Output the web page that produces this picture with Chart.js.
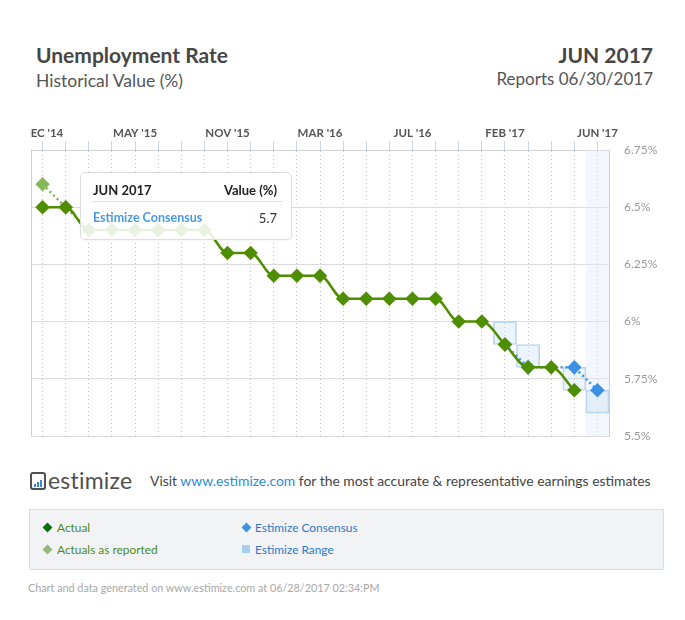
<!DOCTYPE html>
<html lang="en">
<head>
<meta charset="utf-8">
<script src="https://cdn.jsdelivr.net/npm/chart.js@4.4.0/dist/chart.umd.min.js"></script>
<style>
  body { margin:0; width:685px; height:620px; background:#fff; position:relative; overflow:hidden;
         font-family: Lato, "Open Sans", sans-serif; }
  .abs { position:absolute; white-space:nowrap; }
  #title { left:36px; top:42px; font-size:21px; font-weight:bold; color:#464646; }
  #subtitle { left:36px; top:70px; font-size:17.5px; color:#555; }
  #period { right:32px; top:42px; font-size:21px; font-weight:bold; color:#464646; }
  #reports { right:32px; top:68px; font-size:17px; color:#555; }
  #wrap { left:30px; top:120px; width:655px; height:330px; }
  #tip { left:80px; top:172px; width:210px; height:66px; background:rgba(255,255,255,0.88);
         border:1px solid #dcdcdc; border-radius:5px; box-shadow:0 1px 2px rgba(0,0,0,0.04); }
  #tip .h { position:absolute; top:9px; font-size:13px; font-weight:bold; color:#222; }
  #tip .sep { position:absolute; left:10px; right:8px; top:28px; border-top:1px solid #e2e2e2; }
  #tip .r { position:absolute; top:37px; font-size:13px; }
  #logo { left:30px; top:466px; font-size:23px; color:#505050; letter-spacing:0.2px; }
  #logo .ico { display:inline-block; position:relative; width:12px; height:14px; border:2px solid #505050;
               border-radius:3px; vertical-align:-1px; margin-right:2px; }
  #logo .ico i { position:absolute; bottom:1px; width:2px; background:#3a8ad8; }
  #visit { left:150px; top:472px; font-size:13.9px; color:#444; }
  #visit a { color:#2d8bd6; text-decoration:none; }
  #legend { left:29px; top:509px; width:633px; height:59px; background:#f1f3f5; border:1px solid #dcdfe2; }
  .li { position:absolute; font-size:11.9px; }
  .dm { position:absolute; width:7px; height:7px; transform:rotate(45deg); }
  .sq { position:absolute; width:8px; height:8px; }
  #foot { left:28px; top:581px; font-size:10.8px; color:#a8a8a8; }
</style>
</head>
<body>
<div class="abs" id="title">Unemployment Rate</div>
<div class="abs" id="subtitle">Historical Value (%)</div>
<div class="abs" id="period">JUN 2017</div>
<div class="abs" id="reports">Reports 06/30/2017</div>

<div class="abs" id="wrap"><canvas id="chart"></canvas></div>

<div class="abs" id="tip">
  <div class="h" style="left:12px">JUN 2017</div>
  <div class="h" style="right:14px">Value (%)</div>
  <div class="sep"></div>
  <div class="r" style="left:12px;color:#4a9be6;font-weight:bold;font-size:12.5px">Estimize Consensus</div>
  <div class="r" style="right:14px;color:#333">5.7</div>
</div>

<div class="abs" id="logo"><span class="ico"><i style="left:2px;height:3px"></i><i style="left:5px;height:5px"></i><i style="left:8px;height:7px"></i></span>estimize</div>
<div class="abs" id="visit">Visit <a>www.estimize.com</a> for the most accurate &amp; representative earnings estimates</div>

<div class="abs" id="legend">
  <div class="dm" style="left:14px;top:14px;background:#0d6e0d"></div>
  <div class="li" style="left:27px;top:10px;color:#4c8a1e">Actual</div>
  <div class="dm" style="left:14px;top:36px;background:#93b77d"></div>
  <div class="li" style="left:27px;top:32px;color:#4c8a1e">Actuals as reported</div>
  <div class="dm" style="left:213px;top:14px;background:#3f91e6"></div>
  <div class="li" style="left:225px;top:10px;color:#2f78c8">Estimize Consensus</div>
  <div class="sq" style="left:212px;top:35px;background:#a9cdee"></div>
  <div class="li" style="left:225px;top:32px;color:#2f78c8">Estimize Range</div>
</div>

<div class="abs" id="foot">Chart and data generated on www.estimize.com at 06/28/2017 02:34:PM</div>

<script>
  // report months, only every 4th one is labelled on the axis
  var months = ["DEC '14", "JAN '15", "FEB '15", "MAR '15", "MAY '15", "JUN '15", "JUL '15", "SEP '15",
                "NOV '15", "DEC '15", "JAN '16", "FEB '16", "MAR '16", "APR '16", "MAY '16", "JUN '16",
                "JUL '16", "AUG '16", "OCT '16", "DEC '16", "FEB '17", "MAR '17", "APR '17", "MAY '17", "JUN '17"];

  var actual = [6.5, 6.5, 6.4, 6.4, 6.4, 6.4, 6.4, 6.4, 6.3, 6.3, 6.2, 6.2, 6.2,
                6.1, 6.1, 6.1, 6.1, 6.1, 6.0, 6.0, 5.9, 5.8, 5.8, 5.7, null];

  var reported = [6.6, 6.5, 6.4, null, null, null, null, null, null, null, null, null, null,
                  null, null, null, null, null, null, null, null, null, null, null, null];

  var consensus = [null, null, null, null, null, null, null, null, null, null, null, null, null,
                   null, null, null, null, null, null, null, 5.9, 5.8, null, 5.8, 5.7];

  var rangeLow  = [null, null, null, null, null, null, null, null, null, null, null, null, null,
                   null, null, null, null, null, null, null, 5.9, 5.8, null, 5.7, 5.6];
  var rangeHigh = [null, null, null, null, null, null, null, null, null, null, null, null, null,
                   null, null, null, null, null, null, null, 6.0, 5.9, null, 5.8, 5.7];

  var yTicks = [5.5, 5.75, 6, 6.25, 6.5, 6.75];
  var currentIdx = 24;

  var ranges = rangeLow.map(function (lo, i) { return lo == null ? null : [lo, rangeHigh[i]]; });
  var band = months.map(function (m, i) { return i == currentIdx ? [yTicks[0], yTicks[yTicks.length - 1]] : null; });

  // left edge of the plot frame (top/right come from the axis borders)
  var frame = {
    id: 'frame',
    beforeDatasetsDraw: function (chart) {
      var a = chart.chartArea, ctx = chart.ctx;
      ctx.save();
      ctx.strokeStyle = '#cfcfcf';
      ctx.lineWidth = 1;
      ctx.beginPath();
      ctx.moveTo(a.left + 0.5, a.top);
      ctx.lineTo(a.left + 0.5, a.bottom);
      ctx.stroke();
      ctx.restore();
    }
  };

  new Chart(document.getElementById('chart'), {
    type: 'bar',
    data: {
      labels: months,
      datasets: [
        { type: 'line', label: 'Actual', data: actual, order: 0,
          borderColor: '#4f8e00', backgroundColor: '#4f8e00', borderWidth: 2.5,
          cubicInterpolationMode: 'monotone', pointStyle: 'rectRot', pointRadius: 5.5 },
        { type: 'line', label: 'Estimize Consensus', data: consensus, order: 1, spanGaps: true,
          borderColor: '#3d8fe2', backgroundColor: '#3d8fe2', borderWidth: 2.5, borderDash: [2, 3],
          pointStyle: 'rectRot', pointRadius: 5.5 },
        { type: 'line', label: 'Actuals as reported', data: reported, order: 2,
          borderColor: '#86b85a', backgroundColor: '#86b85a', borderWidth: 2.5, borderDash: [2, 3],
          pointStyle: 'rectRot', pointRadius: 5.5 },
        { label: 'Estimize Range', data: ranges, order: 3, grouped: false,
          backgroundColor: 'rgba(205,225,246,0.4)', borderColor: '#b6d4f1', borderWidth: 1,
          borderSkipped: false, barPercentage: 1, categoryPercentage: 1 },
        { label: 'current', data: band, order: 4, grouped: false,
          backgroundColor: 'rgba(228,238,250,0.45)', borderWidth: 0,
          barPercentage: 1, categoryPercentage: 1 }
      ]
    },
    options: {
      responsive: true,
      maintainAspectRatio: false,
      animation: false,
      events: [],
      layout: { autoPadding: false, padding: { left: 1, top: 0, right: 0, bottom: 14 } },
      plugins: { legend: { display: false }, tooltip: { enabled: false } },
      scales: {
        x: {
          position: 'top',
          offset: true,
          grid: { offset: false, color: '#c4c4c4', tickColor: '#c9d4e4', tickLength: 9, tickBorderDash: [] },
          border: { color: '#cfcfcf', dash: [1, 3] },
          ticks: {
            autoSkip: false, maxRotation: 0, padding: 1, color: '#555',
            font: { family: 'Lato', size: 11.5, weight: 'bold' },
            callback: function (v, i) { return i % 4 == 0 ? months[i] : ''; }
          },
          afterFit: function (s) { s.height = 30; s.paddingLeft = 0; s.paddingRight = 0; }
        },
        y: {
          position: 'right',
          min: yTicks[0], max: yTicks[yTicks.length - 1],
          afterBuildTicks: function (s) { s.ticks = yTicks.map(function (v) { return { value: v }; }); },
          grid: { color: '#dadada', drawTicks: false },
          border: { color: '#cfcfcf' },
          ticks: {
            padding: 15, color: '#999',
            font: { family: 'Lato', size: 12 },
            callback: function (v) { return Number(v.toFixed(2)) + '%'; }
          },
          afterFit: function (s) { s.width = 76; s.paddingTop = 0; s.paddingBottom = 0; }
        }
      }
    },
    plugins: [frame]
  });
</script>
</body>
</html>
